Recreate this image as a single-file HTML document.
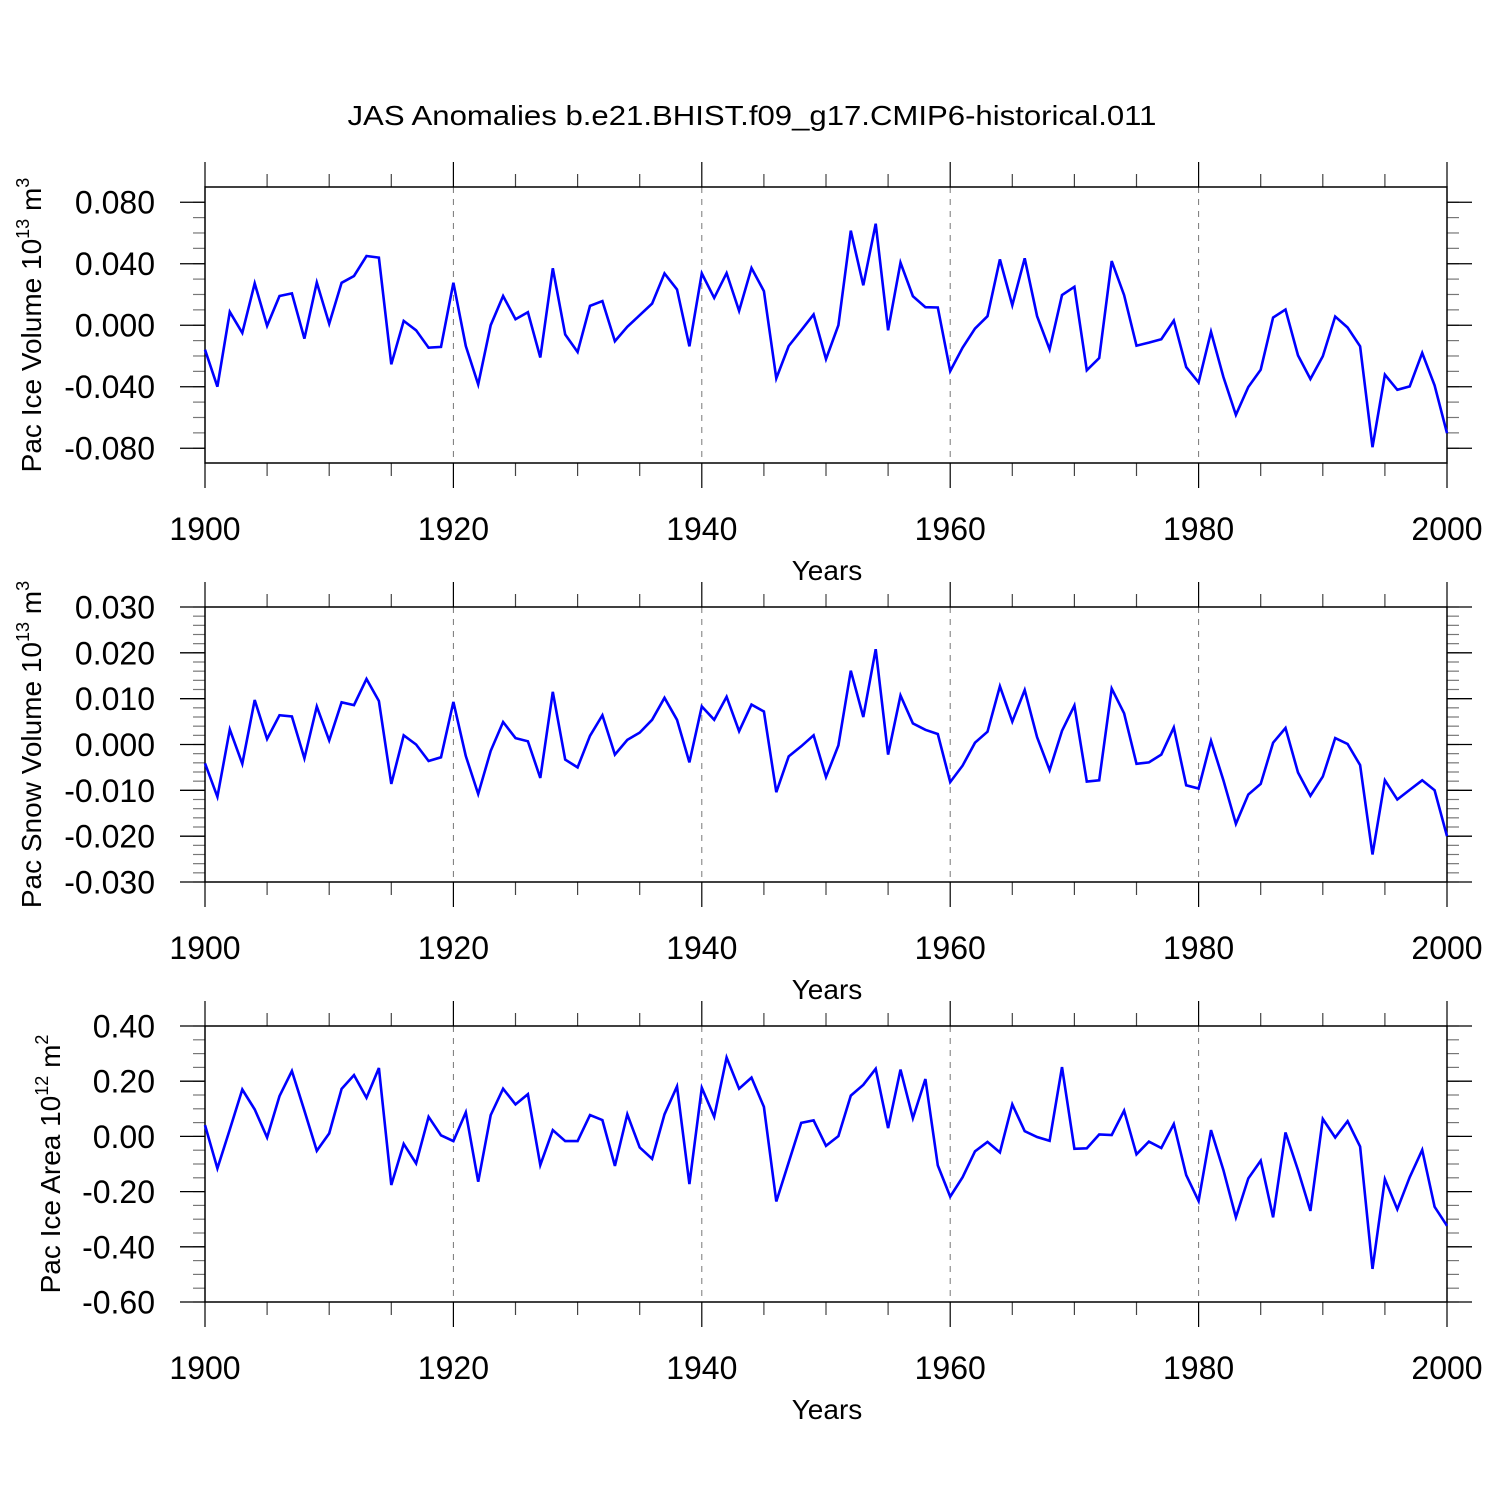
<!DOCTYPE html>
<html><head><meta charset="utf-8"><style>
html,body{margin:0;padding:0;background:#fff;}
svg{display:block;font-family:"Liberation Sans",Arial,sans-serif;}
</style></head><body>
<svg id="chart" width="1500" height="1500" viewBox="0 0 1500 1500" xmlns="http://www.w3.org/2000/svg">
<rect width="1500" height="1500" fill="#fff"/>
<text x="752" y="125" font-size="28" text-anchor="middle" textLength="809" lengthAdjust="spacingAndGlyphs">JAS Anomalies b.e21.BHIST.f09_g17.CMIP6-historical.011</text>
</svg>
<script>
const years = [];
for (let y = 1900; y <= 2000; y++) years.push(y);
const iceVolume = [-0.0159,-0.040,0.0087,-0.005,0.0272,-0.0004,0.019,0.0207,-0.0087,0.0278,0.001,0.0276,0.032,0.045,0.044,-0.0254,0.0028,-0.0033,-0.0146,-0.0141,
0.0276,-0.0135,-0.0385,0,0.019,0.0039,0.0085,-0.021,0.037,-0.006,-0.0174,0.0126,0.0157,-0.0104,-0.001,0.0065,0.0141,0.0337,0.0233,-0.0137,
0.0337,0.0178,0.0339,0.0093,0.0372,0.0222,-0.0346,-0.0135,-0.0033,0.007,-0.022,0,0.0615,0.026,0.066,-0.0033,0.0407,0.0189,0.0117,0.0115,
-0.0298,-0.0146,-0.0022,0.0059,0.0428,0.013,0.0435,0.0059,-0.0157,0.0196,0.025,-0.0293,-0.0213,0.0417,0.0196,-0.0133,-0.0113,-0.0091,0.003,-0.0272,
-0.0372,-0.0043,-0.0337,-0.0583,-0.0402,-0.0289,0.005,0.0102,-0.0196,-0.035,-0.0202,0.0057,-0.0015,-0.0137,-0.0793,-0.0322,-0.042,-0.0398,-0.018,-0.0391,-0.0702];
const snowVolume = [-0.0041,-0.0114,0.0033,-0.0042,0.0097,0.0012,0.0064,0.0061,-0.003,0.0083,0.0009,0.0092,0.0086,0.0143,0.0095,-0.0086,0.002,0,-0.0036,-0.0028,
0.0093,-0.0025,-0.0108,-0.0014,0.0049,0.0014,0.0007,-0.0073,0.0115,-0.0033,-0.005,0.0019,0.0064,-0.0022,0.001,0.0026,0.0054,0.0102,0.0054,-0.0039,
0.0083,0.0054,0.0104,0.0029,0.0087,0.0072,-0.0104,-0.0026,-0.0004,0.002,-0.0071,-0.0002,0.0161,0.006,0.0208,-0.0022,0.0107,0.0046,0.0032,0.0023,
-0.0082,-0.0046,0.0004,0.0028,0.0127,0.005,0.0119,0.0016,-0.0056,0.003,0.0085,-0.0081,-0.0078,0.0122,0.0068,-0.0042,-0.0039,-0.0022,0.0037,-0.0089,
-0.0096,0.0008,-0.0078,-0.0173,-0.0109,-0.0086,0.0004,0.0036,-0.0061,-0.0112,-0.007,0.0014,0.0001,-0.0045,-0.024,-0.0078,-0.012,-0.0099,-0.0078,-0.01,-0.02];
const iceArea = [0.041,-0.116,0.025,0.17,0.098,-0.004,0.146,0.237,0.093,-0.052,0.011,0.172,0.222,0.14,0.248,-0.176,-0.027,-0.098,0.071,0.004,
-0.017,0.087,-0.164,0.077,0.173,0.116,0.153,-0.104,0.023,-0.017,-0.017,0.077,0.059,-0.107,0.08,-0.04,-0.081,0.08,0.181,-0.173,
0.176,0.071,0.286,0.173,0.213,0.107,-0.236,-0.094,0.049,0.058,-0.034,0.001,0.148,0.187,0.245,0.03,0.242,0.066,0.208,-0.105,
-0.218,-0.148,-0.054,-0.02,-0.058,0.116,0.019,-0.002,-0.016,0.251,-0.045,-0.043,0.007,0.005,0.093,-0.065,-0.019,-0.042,0.045,-0.14,
-0.234,0.023,-0.122,-0.293,-0.152,-0.088,-0.293,0.014,-0.122,-0.27,0.063,-0.004,0.055,-0.037,-0.48,-0.155,-0.264,-0.148,-0.049,-0.255,-0.324];
const xTickLabels = ["1900","1920","1940","1960","1980","2000"];
const yTicks1 = ["0.080","0.040","0.000","-0.040","-0.080"];
const yTicks2 = ["0.030","0.020","0.010","0.000","-0.010","-0.020","-0.030"];
const yTicks3 = ["0.40","0.20","0.00","-0.20","-0.40","-0.60"];

const NS = "http://www.w3.org/2000/svg";
const svg = document.getElementById('chart');
const X0 = 205, X1 = 1447;
const xs = y => X0 + (y - 1900) / 100 * (X1 - X0);
function mk(tag, attrs, parent) {
  const e = document.createElementNS(NS, tag);
  for (const k in attrs) e.setAttribute(k, attrs[k]);
  (parent || svg).appendChild(e);
  return e;
}
const panels = [
  {name:'ice-volume', top:187, bot:463, vTop:0.0899, vBot:-0.0896, data:iceVolume, ticks:yTicks1, minor:0.01, titleX:41,
   title:['Pac Ice Volume 10','13',' m','3']},
  {name:'snow-volume', top:607, bot:882, vTop:0.03, vBot:-0.03, data:snowVolume, ticks:yTicks2, minor:0.002, titleX:41,
   title:['Pac Snow Volume 10','13',' m','3']},
  {name:'ice-area', top:1026, bot:1302, vTop:0.4, vBot:-0.6, data:iceArea, ticks:yTicks3, minor:0.05, titleX:60,
   title:['Pac Ice Area 10','12',' m','2']}
];
panels.forEach(p => {
  const g = mk('g', {});
  
  
  const ys = v => p.top + (p.vTop - v) / (p.vTop - p.vBot) * (p.bot - p.top);
  [1920,1940,1960,1980].forEach(yr => {
    const l = mk('line', {x1:xs(yr), x2:xs(yr), y1:p.top, y2:p.bot, stroke:'#777', 'stroke-width':1, 'stroke-dasharray':'6,6'}, g);
    
    
  });
  for (let yr = 1900; yr <= 2000; yr += 5) {
    const major = yr % 20 === 0;
    const len = major ? 25 : 13;
    mk('line', {x1:xs(yr), x2:xs(yr), y1:p.top, y2:p.top - len, stroke: major ? '#000' : '#444', 'stroke-width':1.2}, g);
    mk('line', {x1:xs(yr), x2:xs(yr), y1:p.bot, y2:p.bot + len, stroke: major ? '#000' : '#444', 'stroke-width':1.2}, g);
  }
  xTickLabels.forEach(lab => {
    const t = mk('text', {x:xs(+lab), y:p.bot + 77, 'font-size':32, 'text-anchor':'middle'}, g);
    
    
    t.textContent = lab;
  });
  const xt = mk('text', {x:827, y:p.bot + 117, 'font-size':28, 'text-anchor':'middle'}, g);
  
  
  xt.textContent = 'Years';
  const lo = Math.ceil(p.vBot / p.minor - 1e-6), hi = Math.floor(p.vTop / p.minor + 1e-6);
  for (let k = lo; k <= hi; k++) {
    const y = ys(k * p.minor);
    mk('line', {x1:X0, x2:X0 - 12, y1:y, y2:y, stroke:'#777', 'stroke-width':1.2}, g);
    mk('line', {x1:X1, x2:X1 + 12, y1:y, y2:y, stroke:'#777', 'stroke-width':1.2}, g);
  }
  p.ticks.forEach(lab => {
    const y = ys(parseFloat(lab));
    mk('line', {x1:X0, x2:X0 - 25, y1:y, y2:y, stroke:'#000', 'stroke-width':1.3}, g);
    mk('line', {x1:X1, x2:X1 + 25, y1:y, y2:y, stroke:'#000', 'stroke-width':1.3}, g);
    const t = mk('text', {x:155, y:y + 11.5, 'font-size':32, 'text-anchor':'end'}, g);
    
    
    t.textContent = lab;
  });
  const fr = mk('rect', {x:X0, y:p.top, width:X1 - X0, height:p.bot - p.top, fill:'none', stroke:'#000', 'stroke-width':1.5}, g);
  
  
  const cy = (p.top + p.bot) / 2;
  const yt = mk('text', {x:0, y:0, 'font-size':28, 'text-anchor':'middle', transform:`translate(${p.titleX},${cy}) rotate(-90)`}, g);
  
  
  const s1 = mk('tspan', {}, yt); s1.textContent = p.title[0];
  const s2 = mk('tspan', {dy:-12, 'font-size':18}, yt); s2.textContent = p.title[1];
  const s3 = mk('tspan', {dy:12}, yt); s3.textContent = p.title[2];
  const s4 = mk('tspan', {dy:-12, 'font-size':18}, yt); s4.textContent = p.title[3];
  const pts = p.data.map((v, i) => xs(years[i]).toFixed(1) + ',' + ys(v).toFixed(1)).join(' ');
  const pl = mk('polyline', {points:pts, fill:'none', stroke:'#0000ff', 'stroke-width':2.6, 'stroke-linejoin':'miter'}, g);
  
  
});
</script>
</body></html>
